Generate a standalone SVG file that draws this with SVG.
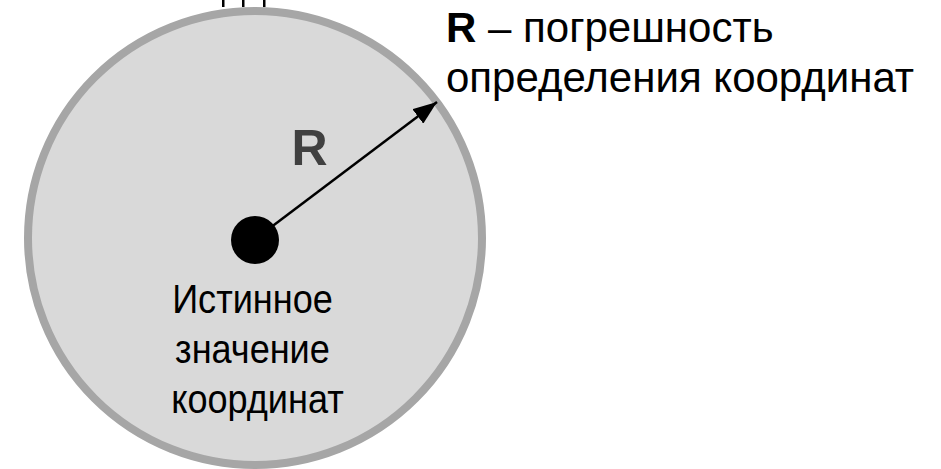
<svg xmlns="http://www.w3.org/2000/svg" width="941" height="469" viewBox="0 0 941 469">
  <style>
    .lbl { font-family: "Liberation Sans", Arial, sans-serif; fill: #000; }
    .bold { font-weight: bold; }
    .conn { stroke: #000; stroke-width: 2.5; fill: none; }
  </style>
  <defs>
    <marker id="arrowhead" viewBox="0 0 24 18" refX="24" refY="9" markerWidth="24" markerHeight="18" markerUnits="userSpaceOnUse" orient="auto">
      <path d="M0,0 L24,9 L0,18 z" fill="#000"/>
    </marker>
  </defs>

  <!-- clipped fragment of a heading above the frame -->
  <g id="top-fragment" fill="#000">
    <rect x="222" y="0" width="2.5" height="7"/>
    <rect x="242" y="0" width="2.5" height="7"/>
    <rect x="263" y="0" width="2.5" height="7"/>
  </g>

  <!-- error zone -->
  <g id="error-zone">
    <circle cx="255" cy="238" r="227" fill="#d9d9d9" stroke="#a6a6a6" stroke-width="8"/>
    <text class="lbl bold" x="309.5" y="165" font-size="50" text-anchor="middle" style="fill:#404040">R</text>
  </g>

  <!-- radius connector -->
  <g id="connectors">
    <line class="conn" x1="262" y1="234" x2="437" y2="102" marker-end="url(#arrowhead)"/>
  </g>

  <!-- true position point -->
  <g id="true-point">
    <circle cx="255" cy="240" r="24" fill="#000"/>
    <g transform="matrix(0.88 0 0 1 30.9 0)">
      <text class="lbl" font-size="41" text-anchor="middle">
        <tspan x="257.5" y="313">Истинное</tspan>
        <tspan x="257.5" y="363">значение</tspan>
        <tspan x="257.5" y="413">координат</tspan>
      </text>
    </g>
  </g>

  <!-- legend -->
  <g id="legend">
    <text class="lbl" font-size="42">
      <tspan x="446" y="42"><tspan class="bold">R</tspan> – погрешность</tspan>
      <tspan x="446" y="92">определения координат</tspan>
    </text>
  </g>
</svg>
